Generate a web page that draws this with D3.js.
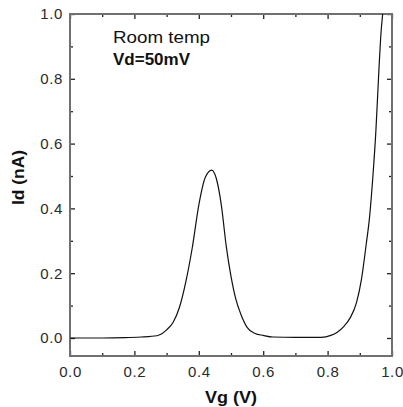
<!DOCTYPE html>
<html>
<head>
<meta charset="utf-8">
<script src="https://cdn.jsdelivr.net/npm/d3@7"></script>
<style>
  body { margin: 0; background: #fff; }
  svg { display: block; font-family: "Liberation Sans", Arial, sans-serif; }
  .tick text { fill: #2a2a2a; font-size: 15px; letter-spacing: 0.6px; }
</style>
</head>
<body>
<div id="chart"></div>
<script>
// Id vs Vg readings
var vg = [0, 0.1, 0.17, 0.22, 0.27, 0.30, 0.32, 0.34, 0.36, 0.38, 0.40, 0.42, 0.44, 0.455, 0.47, 0.485, 0.50, 0.515, 0.53, 0.55, 0.575, 0.60, 0.63, 0.70, 0.78, 0.81, 0.83, 0.85, 0.87, 0.89, 0.905, 0.92, 0.93, 0.94, 0.95, 0.96, 0.965, 0.971]
var id = [0, 0, 0.001, 0.003, 0.007, 0.025, 0.048, 0.095, 0.175, 0.28, 0.41, 0.495, 0.518, 0.49, 0.41, 0.285, 0.19, 0.12, 0.075, 0.033, 0.014, 0.008, 0.003, 0.002, 0.002, 0.008, 0.018, 0.035, 0.062, 0.11, 0.18, 0.29, 0.37, 0.49, 0.64, 0.84, 0.93, 1.0]

var xMajor = [0, 0.2, 0.4, 0.6, 0.8, 1.0]
var xMinor = [0.1, 0.3, 0.5, 0.7, 0.9]
var yMajor = [0, 0.2, 0.4, 0.6, 0.8, 1.0]
var yMinor = [0.1, 0.3, 0.5, 0.7, 0.9]
var notes = ["Room temp", "Vd=50mV"]

var width = 403, height = 407
var pLeft = 70, pRight = 392, pTop = 14, pBottom = 356

var svg = d3.select("#chart").append("svg")
  .attr("width", width)
  .attr("height", height)

var x = d3.scaleLinear().domain([0, 1]).range([pLeft, pRight])
var y = d3.scaleLinear().domain([-0.0556, 1]).range([pBottom, pTop])

var fmt = d3.format(".1f")

function addAxis(axis, tx, ty) {
  var g = svg.append("g")
    .attr("transform", `translate(${tx},${ty})`)
    .call(axis)
  g.select(".domain").remove()
  g.selectAll(".tick line").attr("stroke", "#222").attr("stroke-width", 1.3)
  return g
}

// major + minor ticks, pointing inward, mirrored on top and right
addAxis(d3.axisBottom(x).tickValues(xMajor).tickFormat(fmt).tickSizeInner(-5).tickSizeOuter(0).tickPadding(10), 0, pBottom)
addAxis(d3.axisBottom(x).tickValues(xMinor).tickFormat("").tickSizeInner(-3).tickSizeOuter(0), 0, pBottom)
addAxis(d3.axisTop(x).tickValues(xMajor).tickFormat("").tickSizeInner(-5).tickSizeOuter(0), 0, pTop)
addAxis(d3.axisTop(x).tickValues(xMinor).tickFormat("").tickSizeInner(-3).tickSizeOuter(0), 0, pTop)
addAxis(d3.axisLeft(y).tickValues(yMajor).tickFormat(fmt).tickSizeInner(-5).tickSizeOuter(0).tickPadding(7), pLeft, 0)
addAxis(d3.axisLeft(y).tickValues(yMinor).tickFormat("").tickSizeInner(-3).tickSizeOuter(0), pLeft, 0)
addAxis(d3.axisRight(y).tickValues(yMajor).tickFormat("").tickSizeInner(-5).tickSizeOuter(0), pRight, 0)
addAxis(d3.axisRight(y).tickValues(yMinor).tickFormat("").tickSizeInner(-3).tickSizeOuter(0), pRight, 0)

// frame
svg.append("rect")
  .attr("x", pLeft)
  .attr("y", pTop)
  .attr("width", pRight - pLeft)
  .attr("height", pBottom - pTop)
  .attr("fill", "none")
  .attr("stroke", "#707070")
  .attr("stroke-width", 2)

svg.append("clipPath").attr("id", "plot")
  .append("rect")
  .attr("x", pLeft).attr("y", pTop)
  .attr("width", pRight - pLeft).attr("height", pBottom - pTop)

var line = d3.line()
  .x((d, i) => x(vg[i]))
  .y(d => y(d))
  .curve(d3.curveMonotoneX)

svg.append("path")
  .datum(id)
  .attr("clip-path", "url(#plot)")
  .attr("d", line)
  .attr("fill", "none")
  .attr("stroke", "#111")
  .attr("stroke-width", 1.2)

// annotation
svg.append("text")
  .attr("x", 113).attr("y", 43)
  .attr("font-size", 16)
  .attr("textLength", 97)
  .attr("lengthAdjust", "spacingAndGlyphs")
  .attr("fill", "#111")
  .text(notes[0])
svg.append("text")
  .attr("x", 113).attr("y", 65)
  .attr("font-size", 16)
  .attr("font-weight", "bold")
  .attr("textLength", 77)
  .attr("lengthAdjust", "spacingAndGlyphs")
  .attr("fill", "#111")
  .text(notes[1])

// axis titles
svg.append("text")
  .attr("x", 205)
  .attr("y", 403)
  .attr("font-size", 16)
  .attr("font-weight", "bold")
  .attr("textLength", 52)
  .attr("lengthAdjust", "spacingAndGlyphs")
  .attr("fill", "#111")
  .text("Vg (V)")

svg.append("text")
  .attr("transform", "translate(24,205) rotate(-90)")
  .attr("font-size", 16)
  .attr("font-weight", "bold")
  .attr("textLength", 55)
  .attr("lengthAdjust", "spacingAndGlyphs")
  .attr("fill", "#111")
  .text("Id (nA)")
</script>
</body>
</html>
